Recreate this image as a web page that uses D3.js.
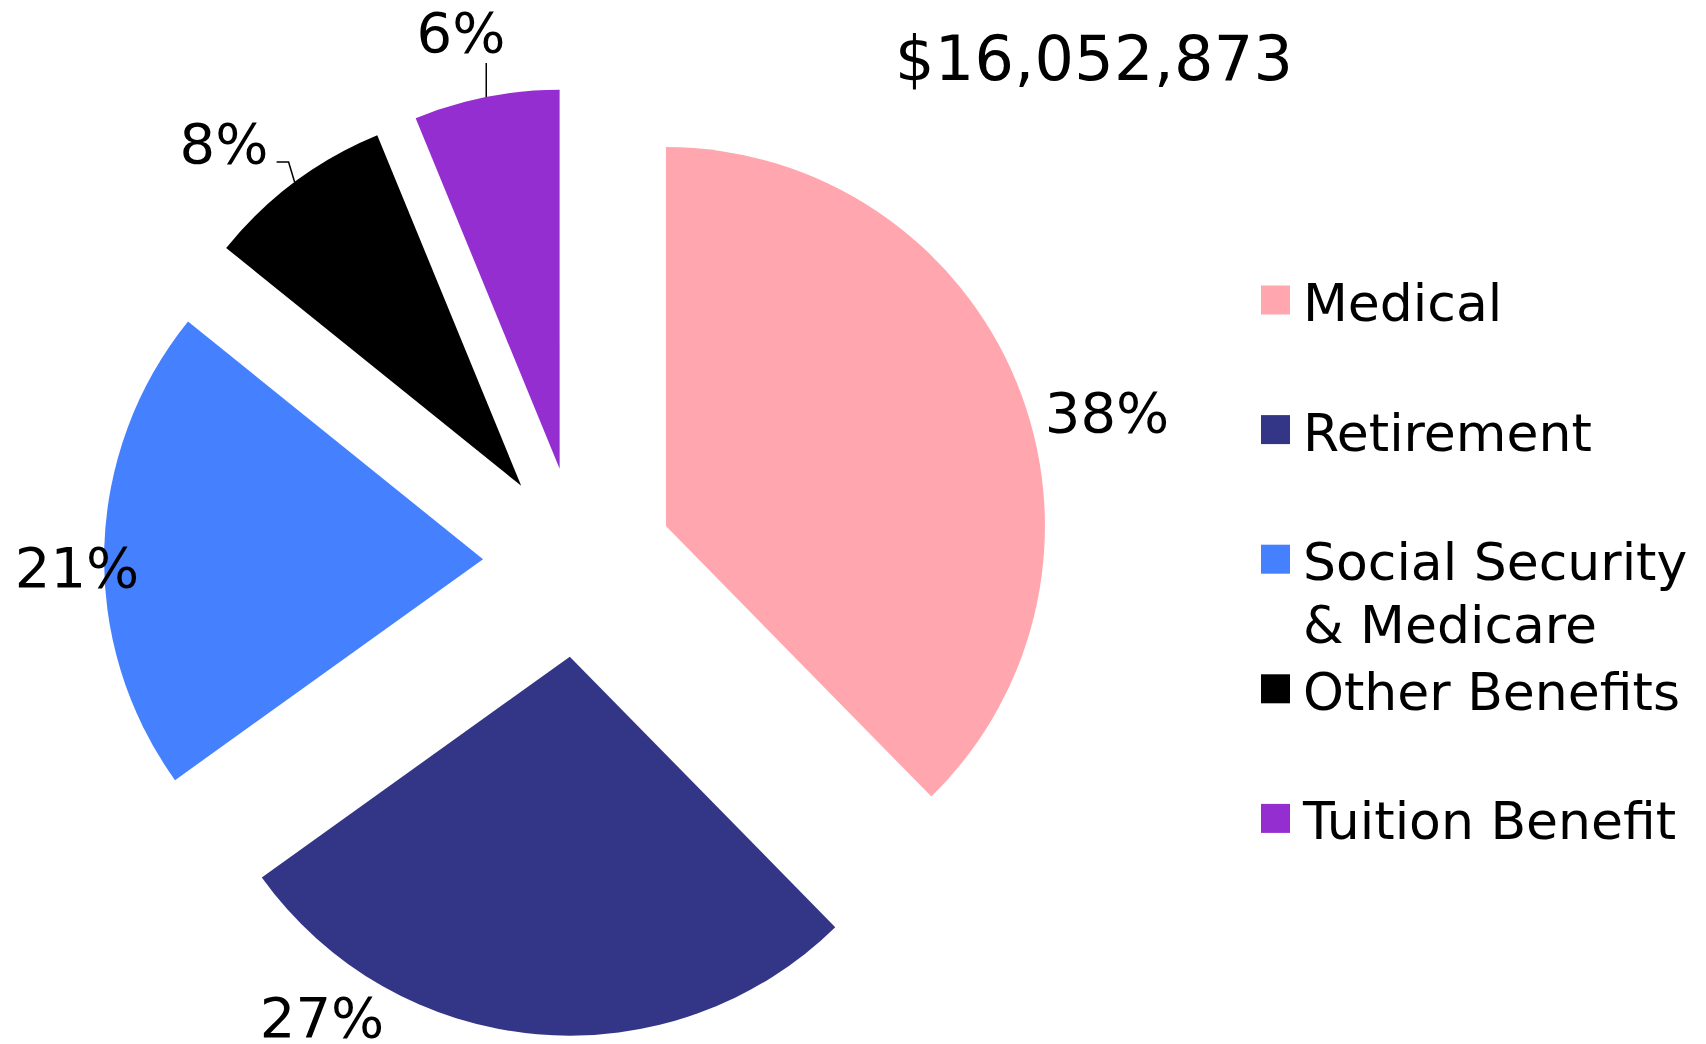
<!DOCTYPE html>
<html>
<head>
<meta charset="utf-8">
<script src="https://cdn.jsdelivr.net/npm/d3@7"></script>
<style>
  html, body { margin: 0; padding: 0; background: #fff; }
  svg { display: block; }
  text { font-family: "DejaVu Sans", Verdana, sans-serif; fill: #000; }
</style>
</head>
<body>
<svg id="chart" width="1706" height="1044"></svg>
<script>
// ---- data ----
const categories = ["Medical", "Retirement", "Social Security & Medicare", "Other Benefits", "Tuition Benefit"];
const legendLines = [["Medical"], ["Retirement"], ["Social Security", "& Medicare"], ["Other Benefits"], ["Tuition Benefit"]];
const values = [37.65, 27.45, 20.7, 8.0, 6.2];
const pctLabels = ["38%", "27%", "21%", "8%", "6%"];
const totalLabel = "$16,052,873";

// ---- styles / layout ----
const colors = ["#FFA6AE", "#333687", "#4580FF", "#000000", "#952ED1"];
const cx = 578, cy = 562, R = 379, explode = 95;
// label anchors (x centre, baseline) and leader style
const labelPos = [
  {x: 1107, y: 432, leader: false},
  {x: 322, y: 1037, leader: false},
  {x: 77, y: 587, leader: false},
  {x: 224, y: 163, leader: "elbow"},
  {x: 461, y: 52, leader: "vertical"}
];

const svg = d3.select("#chart");

const pie = d3.pie().sort(null).value(d => d)(values);
const arc = d3.arc().innerRadius(0).outerRadius(R);

const slices = svg.append("g").selectAll("g")
  .data(pie)
  .join("g")
  .attr("transform", d => {
    const m = (d.startAngle + d.endAngle) / 2;
    return `translate(${cx + explode * Math.sin(m)},${cy - explode * Math.cos(m)})`;
  });

slices.append("path")
  .attr("d", arc)
  .attr("fill", (d, i) => colors[i]);

// leader lines
pie.forEach((d, i) => {
  const lp = labelPos[i];
  if (!lp.leader) return;
  const m = (d.startAngle + d.endAngle) / 2;
  const ox = cx + explode * Math.sin(m), oy = cy - explode * Math.cos(m);
  const px = ox + R * Math.sin(m), py = oy - R * Math.cos(m);
  let pts;
  if (lp.leader === "vertical") {
    pts = [[px, py], [px, lp.y + 11]];
  } else {
    pts = [[px, py], [px - 6, lp.y - 1], [px - 18, lp.y - 1]];
  }
  svg.append("path")
    .attr("d", d3.line()(pts))
    .attr("fill", "none")
    .attr("stroke", "#000")
    .attr("stroke-width", 1.5);
});

// percentage labels
svg.append("g").selectAll("text")
  .data(pie)
  .join("text")
  .attr("x", (d, i) => labelPos[i].x)
  .attr("y", (d, i) => labelPos[i].y)
  .attr("text-anchor", "middle")
  .attr("font-size", 56)
  .text((d, i) => pctLabels[i]);

// total
svg.append("text")
  .attr("x", 895)
  .attr("y", 80)
  .attr("font-size", 62)
  .attr("textLength", 398)
  .attr("lengthAdjust", "spacing")
  .text(totalLabel);

// legend
const legY = d3.scalePoint().domain(categories).range([321, 839.4]);
const leg = svg.append("g").selectAll("g")
  .data(categories)
  .join("g")
  .attr("transform", d => `translate(0,${legY(d)})`);

leg.append("rect")
  .attr("x", 1261)
  .attr("y", -35.5)
  .attr("width", 29)
  .attr("height", 29)
  .attr("fill", (d, i) => colors[i]);

leg.each(function(d, i) {
  const g = d3.select(this);
  legendLines[i].forEach((line, j) => {
    g.append("text")
      .attr("x", 1303)
      .attr("y", j * 63.3)
      .attr("font-size", 52)
      .text(line);
  });
});
</script>
</body>
</html>
